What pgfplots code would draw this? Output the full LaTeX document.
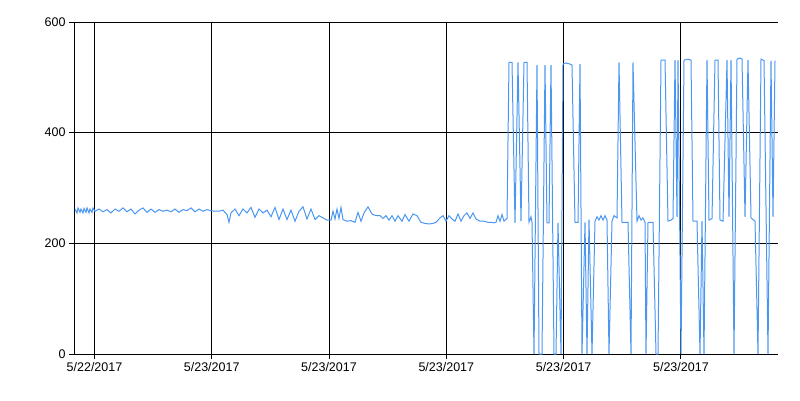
\documentclass[border=0pt]{standalone}
\usepackage{fontspec}
\setmainfont{Liberation Sans}
\usepackage{pgfplots}
\pgfplotsset{compat=1.18}
\definecolor{serie}{RGB}{75,150,240}
\begin{document}
\begin{tikzpicture}[x=1pt,y=1pt]
\path[use as bounding box] (0,0) rectangle (800,400);
\begin{axis}[
  at={(74pt,46pt)}, anchor=south west,
  scale only axis, width=704pt, height=332pt,
  xmin=74, xmax=778, ymin=0, ymax=600,
  axis x line=bottom, axis y line=left,
  axis line style={-, black, line width=1pt},
  xtick={94.5,211.7,329,446.3,563.6,680.9},
  xticklabels={5/22/2017,5/23/2017,5/23/2017,5/23/2017,5/23/2017,5/23/2017},
  ytick={0,200,400,600},
  grid=major, major grid style={black, line width=1pt},
  tick align=outside, major tick length=5pt,
  tick style={black, line width=1pt},
  tick label style={font=\fontsize{12.5}{14}\selectfont},
  /pgf/number format/assume math mode=true,
  clip=false,
]
\addplot[serie, line width=1pt, mark=none] coordinates {
(75,262)(77,255)(78,264)(80,256)(81,262)(83,255)(84,263)(86,256)(87,264)(89,255)(90,262)(92,256)(93,264)(95,258)
(99,262)(103,257)(107,261)(111,255)(115,262)(119,258)(123,264)(127,257)(131,262)(135,253)(139,260)(143,264)
(147,256)(151,262)(155,256)(159,261)(163,258)(167,260)(171,257)(175,262)(179,256)(183,261)(187,259)(191,264)
(195,257)(199,262)(203,258)(207,261)(211,259)(215,258)(219,258)(223,260)(227,252)(229,238)(231,255)(235,262)
(239,250)(243,262)(247,255)(251,265)(255,247)(259,262)(263,255)(267,260)(271,248)(275,265)(279,243)(283,262)
(287,243)(291,260)(295,240)(299,258)(303,266)(307,244)(311,262)(315,243)(319,250)(323,246)(327,242)(331,242)
(333,258)(335,244)(337,262)(339,245)(341,265)(343,243)(347,240)(351,241)(355,238)(358,256)(361,240)(364,255)
(368,266)(372,253)(376,250)(380,250)(383,245)(386,250)(389,242)(392,250)(395,240)(398,250)(402,240)(405,252)
(409,240)(413,253)(417,250)(421,238)(425,236)(429,235)(433,236)(436,238)(440,246)(443,250)(446,240)(449,250)
(452,244)(455,240)(458,253)(461,240)(464,250)(467,255)(470,245)(473,255)(476,244)(480,240)(484,240)(488,238)
(491,238)(494,237)(496,238)(498,250)(500,240)(502,252)(504,240)(507,245)
(509,527)(512,527)(515,237)(518,527)(521,240)(524,527)(527,527)(529,238)(531,248)(532,238)(534,0)(537,522)
(539,0)(542,0)(545,522)(547,237)(549,237)(551,522)(554,0)(556,0)(558,237)(561,0)(563,524)(566,526)(570,524)
(572,522)(575,238)(578,238)(580,524)(582,0)(585,238)(587,0)(589,243)(592,0)(595,240)(597,248)(599,242)
(601,250)(603,242)(605,250)(607,242)(609,0)(612,240)(614,250)(617,246)(619,527)(622,238)(625,238)(628,238)
(631,0)(633,527)(637,240)(639,250)(641,242)(643,246)(645,238)(646,0)(648,238)(650,238)(653,238)(656,0)
(658,0)(661,531)(663,531)(665,531)(668,240)(671,242)(673,245)(675,531)(677,248)(678,531)(681,0)(684,531)
(688,533)(691,531)(693,240)(697,240)(700,0)(702,240)(704,0)(707,531)(709,242)(712,245)(715,531)(718,531)
(720,242)(723,240)(727,531)(729,248)(731,531)(734,0)(737,533)(740,535)(742,533)(745,248)(748,531)(751,246)
(755,240)(758,0)(761,533)(764,530)(768,0)(771,530)(773,248)(775,530)
};
\end{axis}
\end{tikzpicture}
\end{document}
